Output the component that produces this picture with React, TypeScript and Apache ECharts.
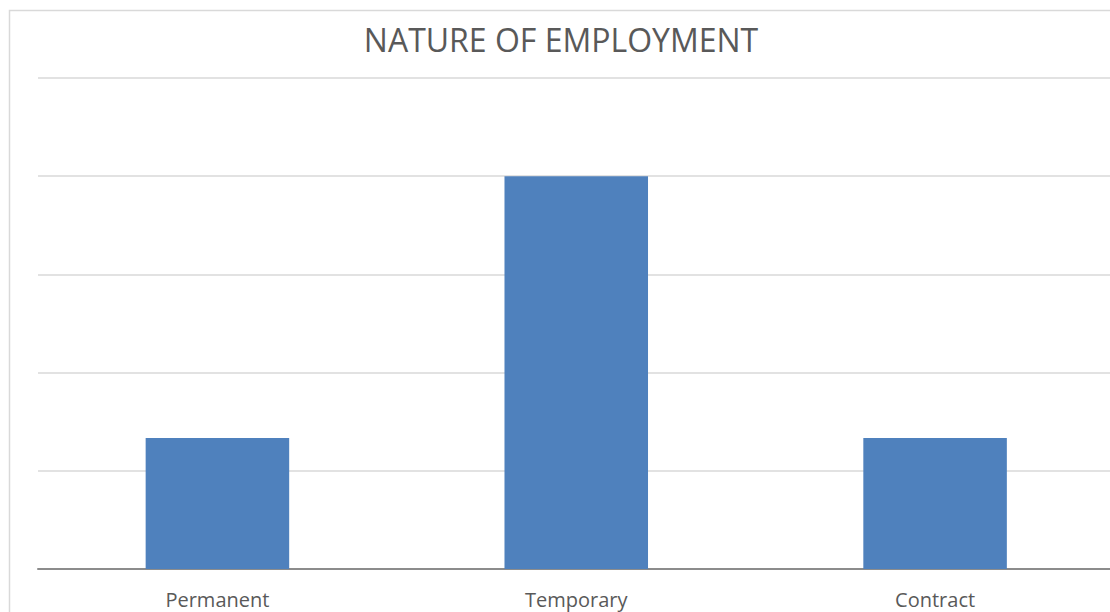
import React, { useEffect, useRef } from "react";
import * as echarts from "echarts";

const categories = ["Permanent", "Temporary", "Contract"];
const values = [20, 60, 20];
const titleText = "NATURE OF EMPLOYMENT";

export default function App() {
  const ref = useRef<HTMLDivElement>(null);
  useEffect(() => {
    if (!ref.current) return;
    const chart = echarts.init(ref.current, undefined, { renderer: "svg" });
    chart.setOption({
      animation: false,
      backgroundColor: "#ffffff",
      title: {
        text: titleText,
        left: 556,
        textAlign: "center",
        top: 18,
        textStyle: {
          fontFamily: "Open Sans",
          fontWeight: "normal",
          fontSize: 32,
          color: "#595959",
        },
      },
      graphic: [
        {
          type: "rect",
          shape: { x: 9.5, y: 10.5, width: 1300, height: 800 },
          style: { fill: "none", stroke: "#d9d9d9", lineWidth: 1.5 },
          silent: true,
        },
      ],
      grid: { left: 38, right: 1.5, top: 78, bottom: 61 },
      xAxis: {
        type: "category",
        data: categories,
        axisTick: { show: false },
        axisLine: { lineStyle: { color: "#8c8c8c", width: 2 } },
        axisLabel: {
          fontFamily: "Open Sans",
          fontSize: 20,
          color: "#595959",
          margin: 20,
        },
      },
      yAxis: {
        type: "value",
        min: 0,
        max: 75,
        interval: 15,
        axisLabel: { show: false },
        axisLine: { show: false },
        axisTick: { show: false },
        splitLine: { lineStyle: { color: "#d9d9d9", width: 1.5 } },
      },
      series: [
        {
          type: "bar",
          data: values,
          barWidth: "40%",
          itemStyle: { color: "#4f81bd" },
        },
      ],
    });
    return () => chart.dispose();
  }, []);
  return (
    <div
      style={{
        position: "absolute",
        left: 0,
        top: 0,
        width: 1110,
        height: 612,
        overflow: "hidden",
        background: "#fff",
      }}
    >
      <div ref={ref} style={{ width: 1116, height: 630 }} />
    </div>
  );
}
